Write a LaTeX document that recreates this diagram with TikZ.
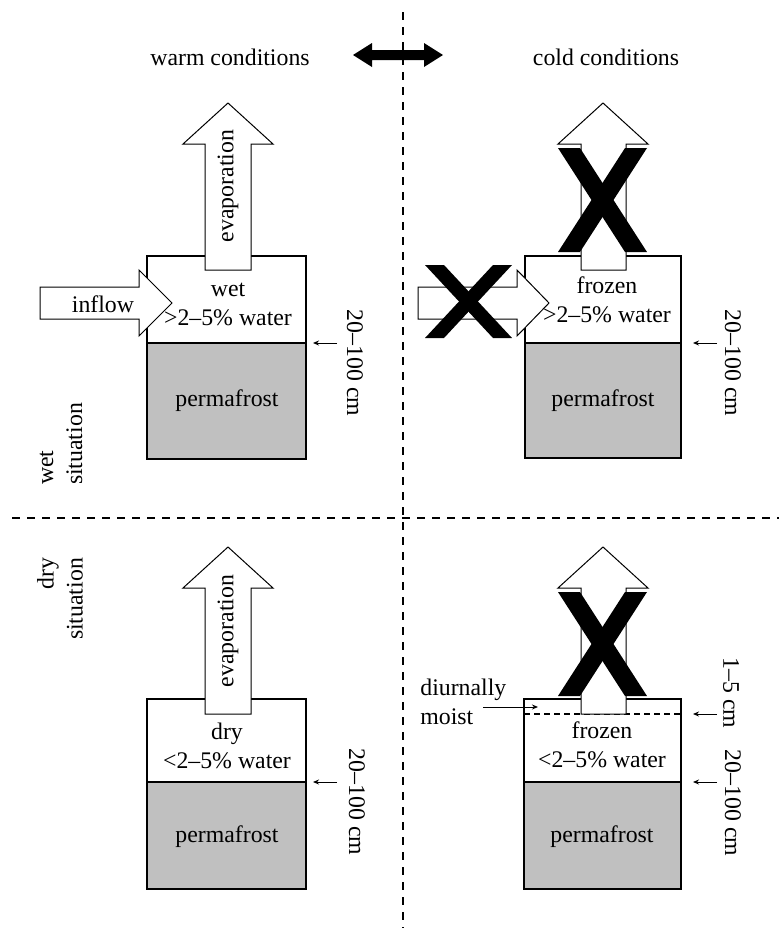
\documentclass[tikz,border=0pt]{standalone}
\usepackage{fontspec}
\setmainfont{Liberation Serif}
\usetikzlibrary{arrows.meta}
\definecolor{frostgray}{HTML}{C0C0C0}

\begin{document}
\begin{tikzpicture}[
    x=0.5pt, y=-0.5pt,
    every node/.style={align=center, inner sep=0pt, font=\fontsize{11.9}{14.5}\selectfont},
    separator/.style={draw, line width=1pt, dash pattern=on 4pt off 3.5pt},
    soil box/.style={draw, line width=1pt, fill=white},
    frost box/.style={draw, line width=1pt, fill=frostgray},
    block arrow/.style={draw, line width=0.5pt, fill=white},
    cross mark/.style={fill=black},
    depth arrow/.style={draw, line width=0.5pt, -{Stealth[length=3pt,width=2.5pt]}},
    moist line/.style={draw, line width=0.6pt, dash pattern=on 3pt off 2pt},
    ]
\useasboundingbox (0,0) rectangle (779,928);

% separators and header
\draw[separator] (403,12) -- (403,928);
\draw[separator] (12,518) -- (779,518);
\node (warm) at (230,57) {warm conditions};
\node (cold) at (606,57) {cold conditions};
\fill (353,55) -- (372,43) -- (372,50) -- (424,50) -- (424,43) -- (443,55)
    -- (424,67) -- (424,60) -- (372,60) -- (372,67) -- cycle;
\node (wetSit) [rotate=90, align=left] at (61,444) {wet\\situation};
\node (drySit) [rotate=90, align=right] at (60,599) {dry\\situation};

% wet situation, warm conditions
\draw[soil box] (147,256) rectangle (306,343);
\draw[frost box] (147,343) rectangle (306,459);
\draw[block arrow] (205,270) -- (205,144) -- (183,144) -- (228,103) -- (273,144)
    -- (251,144) -- (251,270) -- cycle;
\draw[block arrow] (40,287) -- (139,287) -- (139,270) -- (172,303) -- (139,336)
    -- (139,319) -- (40,319) -- cycle;
\node (evapWW) [rotate=90] at (228,186) {evaporation};
\node (inflowWW) at (103,304) {inflow};
\node (soilWW) at (228,304) {wet\\>2--5\% water};
\node (permWW) at (227,401) {permafrost};
\coordinate (depthWWa) at (337,343);
\coordinate (depthWWb) at (313,343);
\draw[depth arrow] (depthWWa) -- (depthWWb);
\node (depthWW) [rotate=-90] at (355,363) {20--100 cm};

% wet situation, cold conditions
\draw[soil box] (525,256) rectangle (681,343);
\draw[frost box] (525,343) rectangle (681,458);
\draw[block arrow] (581,270) -- (581,144) -- (558,144) -- (603,103) -- (648,144)
    -- (626,144) -- (626,270) -- cycle;
\draw[block arrow] (418,287) -- (517,287) -- (517,270) -- (549,303) -- (517,336)
    -- (517,319) -- (418,319) -- cycle;
\fill[cross mark] (558,148) -- (580,148) -- (647,252) -- (625,252) -- cycle;
\fill[cross mark] (625,148) -- (647,148) -- (580,252) -- (558,252) -- cycle;
\fill[cross mark] (425,265) -- (444,265) -- (512,338) -- (493,338) -- cycle;
\fill[cross mark] (493,265) -- (512,265) -- (444,338) -- (425,338) -- cycle;
\node (soilWC) at (607,300) {frozen\\>2--5\% water};
\node (permWC) at (603,401) {permafrost};
\coordinate (depthWCa) at (717,343);
\coordinate (depthWCb) at (693,343);
\draw[depth arrow] (depthWCa) -- (depthWCb);
\node (depthWC) [rotate=-90] at (733,363) {20--100 cm};

% dry situation, warm conditions
\draw[soil box] (147,699) rectangle (306,782);
\draw[frost box] (147,782) rectangle (306,889);
\draw[block arrow] (205,714) -- (205,588) -- (183,588) -- (228,547) -- (273,588)
    -- (251,588) -- (251,714) -- cycle;
\node (evapDW) [rotate=90] at (228,631) {evaporation};
\node (soilDW) at (227,746) {dry\\<2--5\% water};
\node (permDW) at (227,837) {permafrost};
\coordinate (depthDWa) at (337,782);
\coordinate (depthDWb) at (313,782);
\draw[depth arrow] (depthDWa) -- (depthDWb);
\node (depthDW) [rotate=-90] at (357,802) {20--100 cm};

% dry situation, cold conditions
\draw[soil box] (524,699) rectangle (681,782);
\draw[frost box] (524,782) rectangle (681,889);
\draw[moist line] (524,714) -- (681,714);
\draw[block arrow] (581,714) -- (581,588) -- (558,588) -- (603,547) -- (648,588)
    -- (626,588) -- (626,714) -- cycle;
\fill[cross mark] (558,592) -- (580,592) -- (647,696) -- (625,696) -- cycle;
\fill[cross mark] (625,592) -- (647,592) -- (580,696) -- (558,696) -- cycle;
\node (soilDC) at (602,745) {frozen\\<2--5\% water};
\node (permDC) at (602,837) {permafrost};
\node (moist) [anchor=west, align=left] at (420,702) {diurnally\\moist};
\coordinate (moistA) at (483,707);
\coordinate (moistB) at (538,707);
\draw[depth arrow] (moistA) -- (moistB);
\coordinate (depthDCa) at (717,714);
\coordinate (depthDCb) at (693,714);
\draw[depth arrow] (depthDCa) -- (depthDCb);
\node (thawDC) [rotate=-90] at (731,693) {1--5 cm};
\coordinate (depthDCc) at (717,782);
\coordinate (depthDCd) at (693,782);
\draw[depth arrow] (depthDCc) -- (depthDCd);
\node (depthDC) [rotate=-90] at (733,803) {20--100 cm};
\end{tikzpicture}
\end{document}
